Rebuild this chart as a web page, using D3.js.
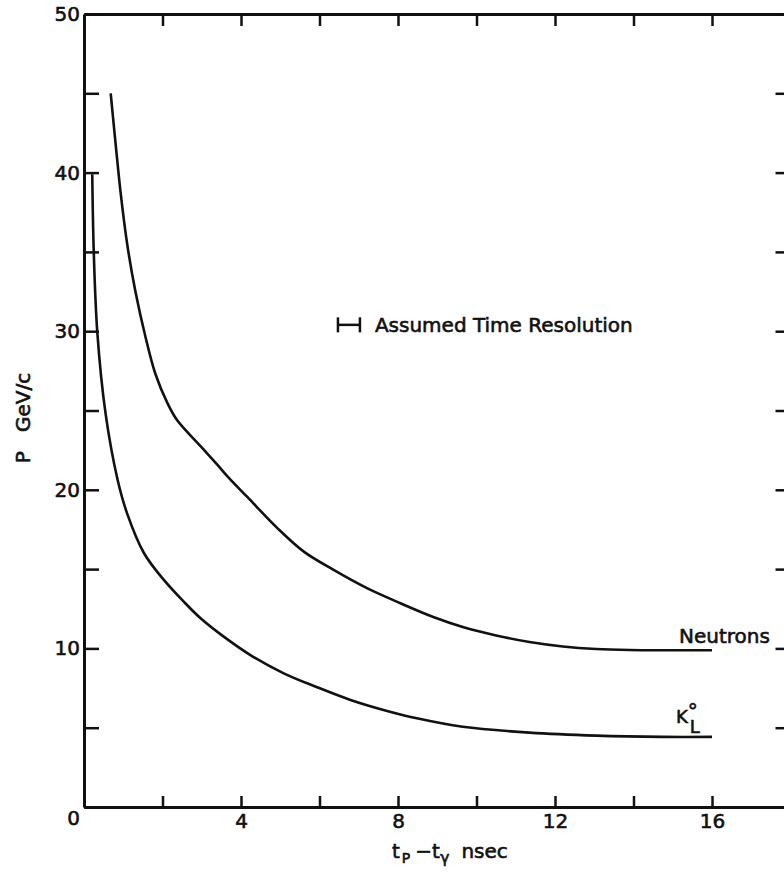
<!DOCTYPE html>
<html>
<head>
<meta charset="utf-8">
<script src="https://cdn.jsdelivr.net/npm/d3@7"></script>
<style>
  body { margin: 0; background: #fff; }
  svg { display: block; font-family: "DejaVu Sans", sans-serif; }
  text { fill: #111; stroke: #111; stroke-width: 0.6px; }
</style>
</head>
<body>
<div id="chart"></div>
<script>
// Values
const neutronT = [0.68, 0.81, 0.93, 1.10, 1.31, 1.57, 1.82, 2.12, 2.37, 2.97, 3.39, 3.69, 4.16, 4.92, 5.6, 6.36, 7.21, 8.06, 8.9, 9.65, 10.5, 11.35, 12.2, 13.05, 13.9, 16.0];
const neutronP = [45.0, 41.7, 38.8, 35.5, 32.5, 29.6, 27.3, 25.5, 24.4, 22.75, 21.6, 20.75, 19.55, 17.6, 16.1, 14.95, 13.8, 12.85, 11.98, 11.35, 10.82, 10.4, 10.12, 9.96, 9.9, 9.88];

const kaonT = [0.21, 0.25, 0.34, 0.55, 0.85, 1.10, 1.53, 2.04, 2.54, 2.97, 3.56, 4.24, 5.09, 5.94, 6.79, 7.63, 8.48, 9.65, 11.35, 13.05, 14.74, 16.0];
const kaonP = [39.9, 34.9, 29.9, 24.8, 20.7, 18.5, 16.0, 14.3, 12.95, 11.9, 10.74, 9.58, 8.43, 7.55, 6.75, 6.12, 5.59, 5.06, 4.69, 4.5, 4.42, 4.42];

// "Assumed Time Resolution" bar
const resolutionT = [6.47, 7.03];
const resolutionP = 30.4;

const xTicks = [2, 4, 6, 8, 10, 12, 14, 16];
const xLabels = [4, 8, 12, 16];
const yTicks = [0, 5, 10, 15, 20, 25, 30, 35, 40, 45, 50];
const yLabels = [0, 10, 20, 30, 40, 50];

const W = 784, H = 877;
const mleft = 84, mtop = 14, mbottom = 807;

const svg = d3.select("#chart").append("svg")
    .attr("width", W)
    .attr("height", H);

const x = d3.scaleLinear().domain([0, 18]).range([mleft, mleft + 18 * 39.25]);
const y = d3.scaleLinear().domain([0, 50]).range([mbottom, mtop]);

function styleAxis(g) {
    g.select(".domain").attr("stroke", "#111").attr("stroke-width", 3);
    g.selectAll(".tick line").attr("stroke", "#111").attr("stroke-width", 2.5);
    g.selectAll(".tick text")
        .attr("font-size", "20px")
        .attr("font-family", "DejaVu Sans, sans-serif");
}

// bottom axis, ticks pointing in
svg.append("g")
    .attr("transform", `translate(0, ${mbottom})`)
    .call(d3.axisBottom(x)
        .tickValues(xTicks)
        .tickSize(-11)
        .tickSizeOuter(0)
        .tickPadding(7)
        .tickFormat(d => xLabels.includes(d) ? d : ""))
    .call(styleAxis);

// top axis, no labels
svg.append("g")
    .attr("transform", `translate(0, ${mtop})`)
    .call(d3.axisTop(x).tickValues(xTicks).tickSize(-12).tickSizeOuter(0).tickFormat(""))
    .call(styleAxis);

// left axis
const yAxisG = svg.append("g")
    .attr("transform", `translate(${mleft}, 0)`)
    .call(d3.axisLeft(y)
        .tickValues(yTicks)
        .tickSize(-15)
        .tickSizeOuter(0)
        .tickPadding(4)
        .tickFormat(d => yLabels.includes(d) ? d : ""))
    .call(styleAxis);

// the corner "0" sits below the axis line
yAxisG.selectAll(".tick text").filter(d => d === 0).attr("dy", "0.86em");

// right axis (spine falls just past the page edge)
svg.append("g")
    .attr("transform", `translate(${x(18)}, 0)`)
    .call(d3.axisRight(y).tickValues(yTicks).tickSize(-15).tickSizeOuter(0).tickFormat(""))
    .call(styleAxis);

// curves
const line = d3.line()
    .x(d => x(d[0]))
    .y(d => y(d[1]))
    .curve(d3.curveCatmullRom.alpha(0.5));

svg.append("path")
    .datum(neutronT.map((t, i) => [t, neutronP[i]]))
    .attr("fill", "none")
    .attr("stroke", "#111")
    .attr("stroke-width", 2.6)
    .attr("d", line);

svg.append("path")
    .datum(kaonT.map((t, i) => [t, kaonP[i]]))
    .attr("fill", "none")
    .attr("stroke", "#111")
    .attr("stroke-width", 2.6)
    .attr("d", line);

// curve labels
const nEndX = x(neutronT[neutronT.length - 1]);
const nEndY = y(neutronP[neutronP.length - 1]);
svg.append("text")
    .attr("x", nEndX - 33)
    .attr("y", nEndY - 7)
    .attr("font-size", "20px")
    .text("Neutrons");

const kEndX = x(kaonT[kaonT.length - 1]);
const kEndY = y(kaonP[kaonP.length - 1]);
const kl = svg.append("text")
    .attr("x", kEndX - 36)
    .attr("y", kEndY - 14)
    .attr("font-size", "18px");
kl.append("tspan").text("K");
kl.append("tspan").attr("font-size", "20px").attr("dx", 0).attr("dy", -5).text("°");
kl.append("tspan").attr("dx", -8).attr("dy", 15).text("L");

// resolution marker
const res = svg.append("g").attr("stroke", "#111").attr("stroke-width", 2.5);
res.append("line")
    .attr("x1", x(resolutionT[0])).attr("x2", x(resolutionT[1]))
    .attr("y1", y(resolutionP)).attr("y2", y(resolutionP));
for (const t of resolutionT) {
    res.append("line")
        .attr("x1", x(t)).attr("x2", x(t))
        .attr("y1", y(resolutionP) - 7.5).attr("y2", y(resolutionP) + 7.5);
}
svg.append("text")
    .attr("x", x(resolutionT[1]) + 15)
    .attr("y", y(resolutionP) + 7)
    .attr("font-size", "20px")
    .text("Assumed Time Resolution");

// axis titles
const xt = svg.append("text")
    .attr("x", 392)
    .attr("y", 858)
    .attr("font-size", "20px");
xt.append("tspan").text("t");
xt.append("tspan").attr("font-size", "14px").attr("dy", 5).attr("dx", 2).text("P");
xt.append("tspan").attr("dy", -5).attr("dx", 5).text("\u2212t");
xt.append("tspan").attr("font-size", "16px").attr("dy", 5).text("\u03b3");
xt.append("tspan").attr("dy", -5).attr("dx", 12).text("nsec");

svg.append("text")
    .attr("transform", `translate(30, 418) rotate(-90)`)
    .attr("text-anchor", "middle")
    .attr("font-size", "20px")
    .attr("xml:space", "preserve")
    .text("P   GeV/c");
</script>
</body>
</html>
